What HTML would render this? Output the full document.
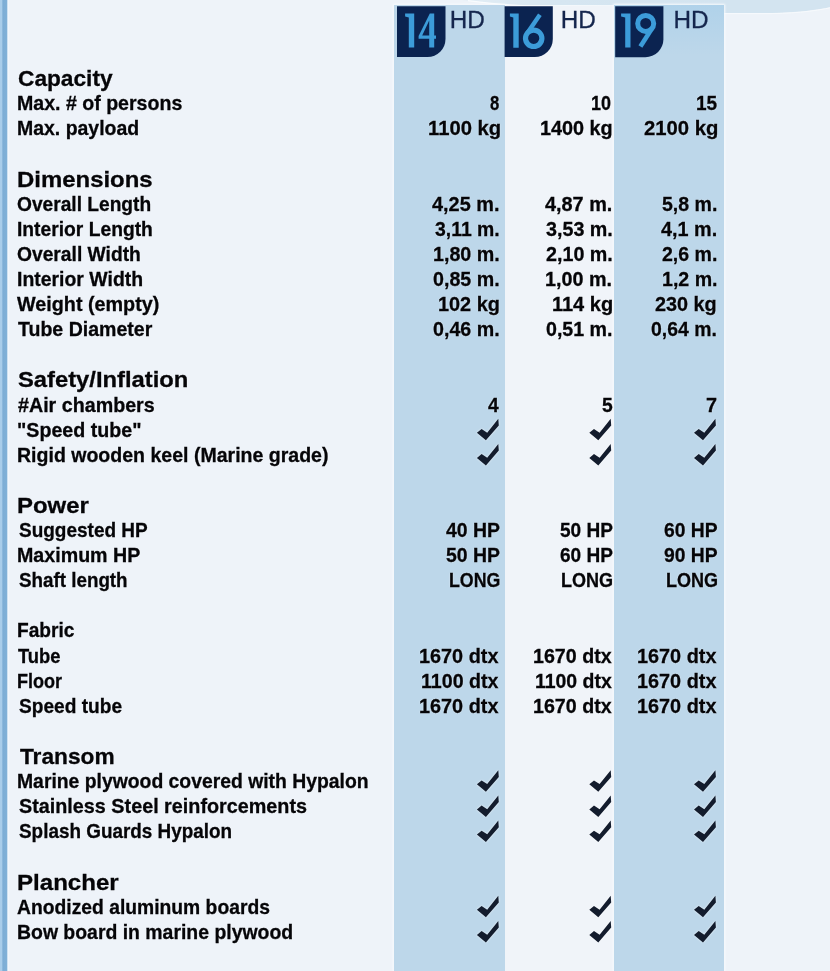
<!DOCTYPE html>
<html><head><meta charset="utf-8"><title>HD specs</title>
<style>
html,body{margin:0;padding:0;width:830px;height:971px;overflow:hidden;}
body{width:830px;height:971px;position:relative;overflow:hidden;background:#eef3f9;font-family:"Liberation Sans",sans-serif;color:#050508;}
.col{position:absolute;top:5px;bottom:-12px;}
.c1{left:394.4px;width:110.2px;background:#bdd7ea;box-shadow:0 0 2px 0.6px #f7fafd;}
.c2{left:504.6px;width:109.4px;background:#f0f4f9;top:6px}
.c3{left:614px;width:109.8px;background:linear-gradient(#b0d2ea 0,#bdd7ea 50px);top:5px;box-shadow:0 0 2px 0.6px #f7fafd;}
.stripe{position:absolute;left:-12px;top:-12px;bottom:-12px;width:21px;background:linear-gradient(90deg,#a9cdea 0,#a9cdea 13.5px,#7dadd5 15px,#80b0d7 18.5px,#f6fafe 20px,#eef3f9 21px);}
.r,.h{position:absolute;white-space:nowrap;font-weight:bold;-webkit-text-stroke:0.3px #050508;text-shadow:0 0 1.3px rgba(255,255,255,.6),0 0 2px rgba(255,255,255,.35);line-height:24px;height:24px;transform-origin:0 0;}
.r{font-size:20.2px;}
.h{font-size:22.8px;}
.badge{position:absolute;top:6px;height:51.5px;width:48.8px;background:#0b2350;border-bottom-right-radius:19px 19px;}
.hd{position:absolute;top:5px;font-size:24.3px;line-height:30px;color:#15264d;font-weight:normal;-webkit-text-stroke:0.3px #15264d;}
svg.ov{position:absolute;left:0;top:0;}
#clip{position:absolute;left:0;top:0;width:830px;height:971px;overflow:hidden;}
#w{position:absolute;left:-12px;top:-12px;width:854px;height:995px;filter:blur(0.45px);background:#eef3f9;}
#i{position:absolute;left:12px;top:12px;width:830px;height:971px;}
</style></head><body>
<div id="clip"><div id="w"><div id="i">
<svg class="ov" style="left:0;top:-12px" width="842" height="30" viewBox="0 -12 842 30">
<defs><linearGradient id="sg" x1="468" x2="724" y1="0" y2="0" gradientUnits="userSpaceOnUse"><stop offset="0" stop-color="#e2edf5"/><stop offset="0.35" stop-color="#d6e6f1"/><stop offset="1" stop-color="#d3e4f0"/></linearGradient></defs>
<path d="M462,-12 L462,0 C488,3 505,5.0 530,5.2 L724,5.4 L724,13 L772,13 C800,12.6 820,10 842,4.5 L842,-12 Z" fill="url(#sg)"/>
<path d="M468,0.6 C490,3.6 505,5.6 530,5.8 L724,6" fill="none" stroke="#f9fcfe" stroke-width="1.2"/>
<path d="M724,13.6 L772,13.6 C800,13.2 820,10.6 842,5.1" fill="none" stroke="#f7fafd" stroke-width="1"/>
</svg>
<div class="col c1"></div><div class="col c2"></div><div class="col c3"></div>
<div class="stripe"></div>
<svg class="ov" width="830" height="60" viewBox="0 0 830 60">
<g fill="#0b2350">
<path d="M397,6.3 H445.5 V39 A18,18 0 0 1 427.5,57 H397 Z"/>
<path d="M504.6,6.3 H552.8 V39 A18,18 0 0 1 534.8,57 H504.6 Z"/>
<path d="M615.2,6.3 H663.4 V39.2 A18,18 0 0 1 645.4,57.2 H615.2 Z"/>
</g>
<g fill="#3c9cd9" fill-rule="evenodd">
<path d="M405.1,13.4 H414.2 V47.6 H408.8 V17.6 L405.1,16.5 Z"/>
<path d="M429.8,13.4 H434.2 V35.5 H436 V38.8 H434.2 V47.6 H429.2 V38.8 H418.6 V36 Z M429.2,20.6 L422.2,35.5 H429.2 Z"/>
<path d="M509.9,13.4 H518.7 V47.8 H513.3 V17.6 L509.9,16.5 Z"/>
<path d="M621.1,13.4 H630.5 V47.6 H625.2 V17.6 L621.1,16.5 Z"/>
</g>
<g fill="none" stroke="#3c9cd9">
<circle cx="533.7" cy="38.3" r="8.2" stroke-width="5.2"/>
<path d="M539.9,14.8 L526.7,33.9" stroke-width="4.4"/>
<circle cx="645.7" cy="23.4" r="8" stroke-width="5.0"/>
<path d="M652.4,27.7 L640.4,46.6" stroke-width="4.6"/>
</g>
</svg>
<div class="hd" style="left:449.7px">HD</div>
<div class="hd" style="left:560.7px">HD</div>
<div class="hd" style="left:673.4px">HD</div>
<div class="h" style="top:66.00px;left:17.60px;transform:scaleX(0.9953)">Capacity</div>
<div class="r" style="top:91.00px;left:16.63px;transform:scaleX(0.9693)">Max. # of persons</div>
<div class="r" style="top:91.00px;left:490.20px;transform:scaleX(0.8273)">8</div>
<div class="r" style="top:91.00px;left:591.21px;transform:scaleX(0.8904)">10</div>
<div class="r" style="top:91.00px;left:695.76px;transform:scaleX(0.9422)">15</div>
<div class="r" style="top:116.00px;left:16.64px;transform:scaleX(0.9635)">Max. payload</div>
<div class="r" style="top:116.00px;left:427.50px;transform:scaleX(1.0024)">1100 kg</div>
<div class="r" style="top:116.00px;left:539.62px;transform:scaleX(0.9812)">1400 kg</div>
<div class="r" style="top:116.00px;left:643.70px;transform:scaleX(1.0035)">2100 kg</div>
<div class="h" style="top:167.00px;left:16.55px;transform:scaleX(1.0499)">Dimensions</div>
<div class="r" style="top:192.00px;left:17.20px;transform:scaleX(0.9489)">Overall Length</div>
<div class="r" style="top:192.00px;left:432.30px;transform:scaleX(0.9845)">4,25 m.</div>
<div class="r" style="top:192.00px;left:545.00px;transform:scaleX(0.9831)">4,87 m.</div>
<div class="r" style="top:192.00px;left:661.70px;transform:scaleX(0.9678)">5,8 m.</div>
<div class="r" style="top:217.00px;left:16.65px;transform:scaleX(0.9540)">Interior Length</div>
<div class="r" style="top:217.00px;left:435.00px;transform:scaleX(0.9605)">3,11 m.</div>
<div class="r" style="top:217.00px;left:545.50px;transform:scaleX(0.9757)">3,53 m.</div>
<div class="r" style="top:217.00px;left:660.90px;transform:scaleX(0.9819)">4,1 m.</div>
<div class="r" style="top:242.00px;left:17.20px;transform:scaleX(0.9529)">Overall Width</div>
<div class="r" style="top:242.00px;left:432.92px;transform:scaleX(0.9753)">1,80 m.</div>
<div class="r" style="top:242.00px;left:545.50px;transform:scaleX(0.9757)">2,10 m.</div>
<div class="r" style="top:242.00px;left:661.70px;transform:scaleX(0.9678)">2,6 m.</div>
<div class="r" style="top:267.00px;left:16.64px;transform:scaleX(0.9623)">Interior Width</div>
<div class="r" style="top:267.00px;left:433.10px;transform:scaleX(0.9727)">0,85 m.</div>
<div class="r" style="top:267.00px;left:545.32px;transform:scaleX(0.9783)">1,00 m.</div>
<div class="r" style="top:267.00px;left:661.53px;transform:scaleX(0.9708)">1,2 m.</div>
<div class="r" style="top:292.00px;left:16.70px;transform:scaleX(0.9786)">Weight (empty)</div>
<div class="r" style="top:292.00px;left:438.12px;transform:scaleX(0.9848)">102 kg</div>
<div class="r" style="top:292.00px;left:551.71px;transform:scaleX(0.9898)">114 kg</div>
<div class="r" style="top:292.00px;left:654.50px;transform:scaleX(0.9818)">230 kg</div>
<div class="r" style="top:317.00px;left:17.60px;transform:scaleX(0.9678)">Tube Diameter</div>
<div class="r" style="top:317.00px;left:433.10px;transform:scaleX(0.9727)">0,46 m.</div>
<div class="r" style="top:317.00px;left:545.80px;transform:scaleX(0.9713)">0,51 m.</div>
<div class="r" style="top:317.00px;left:651.30px;transform:scaleX(0.9610)">0,64 m.</div>
<div class="h" style="top:367.00px;left:18.00px;transform:scaleX(1.0426)">Safety/Inflation</div>
<div class="r" style="top:393.00px;left:18.00px;transform:scaleX(0.9748)">#Air chambers</div>
<div class="r" style="top:393.00px;left:488.00px;transform:scaleX(0.9500)">4</div>
<div class="r" style="top:393.00px;left:601.80px;transform:scaleX(0.9545)">5</div>
<div class="r" style="top:393.00px;left:705.90px;transform:scaleX(0.9818)">7</div>
<div class="r" style="top:418.00px;left:17.03px;transform:scaleX(0.9733)">&quot;Speed tube&quot;</div>
<div class="r" style="top:443.00px;left:17.03px;transform:scaleX(0.9675)">Rigid wooden keel (Marine grade)</div>
<div class="h" style="top:493.00px;left:17.35px;transform:scaleX(1.0497)">Power</div>
<div class="r" style="top:518.00px;left:19.10px;transform:scaleX(0.9407)">Suggested HP</div>
<div class="r" style="top:518.00px;left:445.70px;transform:scaleX(0.9633)">40 HP</div>
<div class="r" style="top:518.00px;left:559.60px;transform:scaleX(0.9435)">50 HP</div>
<div class="r" style="top:518.00px;left:664.20px;transform:scaleX(0.9561)">60 HP</div>
<div class="r" style="top:543.00px;left:16.63px;transform:scaleX(0.9729)">Maximum HP</div>
<div class="r" style="top:543.00px;left:445.70px;transform:scaleX(0.9633)">50 HP</div>
<div class="r" style="top:543.00px;left:559.60px;transform:scaleX(0.9435)">60 HP</div>
<div class="r" style="top:543.00px;left:664.20px;transform:scaleX(0.9561)">90 HP</div>
<div class="r" style="top:568.00px;left:19.10px;transform:scaleX(0.9312)">Shaft length</div>
<div class="r" style="top:568.00px;left:448.52px;transform:scaleX(0.8814)">LONG</div>
<div class="r" style="top:568.00px;left:560.61px;transform:scaleX(0.8938)">LONG</div>
<div class="r" style="top:568.00px;left:665.91px;transform:scaleX(0.8938)">LONG</div>
<div class="r" style="top:618.00px;left:16.65px;transform:scaleX(0.9485)">Fabric</div>
<div class="r" style="top:644.00px;left:17.60px;transform:scaleX(0.9098)">Tube</div>
<div class="r" style="top:644.00px;left:418.92px;transform:scaleX(0.9830)">1670 dtx</div>
<div class="r" style="top:644.00px;left:532.73px;transform:scaleX(0.9730)">1670 dtx</div>
<div class="r" style="top:644.00px;left:636.72px;transform:scaleX(0.9830)">1670 dtx</div>
<div class="r" style="top:669.00px;left:16.71px;transform:scaleX(0.8931)">Floor</div>
<div class="r" style="top:669.00px;left:420.93px;transform:scaleX(0.9716)">1100 dtx</div>
<div class="r" style="top:669.00px;left:534.64px;transform:scaleX(0.9628)">1100 dtx</div>
<div class="r" style="top:669.00px;left:636.72px;transform:scaleX(0.9830)">1670 dtx</div>
<div class="r" style="top:694.00px;left:19.10px;transform:scaleX(0.9468)">Speed tube</div>
<div class="r" style="top:694.00px;left:418.92px;transform:scaleX(0.9830)">1670 dtx</div>
<div class="r" style="top:694.00px;left:532.73px;transform:scaleX(0.9730)">1670 dtx</div>
<div class="r" style="top:694.00px;left:636.72px;transform:scaleX(0.9830)">1670 dtx</div>
<div class="h" style="top:744.00px;left:19.60px;transform:scaleX(0.9963)">Transom</div>
<div class="r" style="top:769.00px;left:16.64px;transform:scaleX(0.9585)">Marine plywood covered with Hypalon</div>
<div class="r" style="top:794.00px;left:19.10px;transform:scaleX(0.9798)">Stainless Steel reinforcements</div>
<div class="r" style="top:819.00px;left:19.10px;transform:scaleX(0.9358)">Splash Guards Hypalon</div>
<div class="h" style="top:870.00px;left:16.54px;transform:scaleX(1.0563)">Plancher</div>
<div class="r" style="top:895.00px;left:16.90px;transform:scaleX(0.9555)">Anodized aluminum boards</div>
<div class="r" style="top:920.00px;left:16.64px;transform:scaleX(0.9617)">Bow board in marine plywood</div>
<svg class="ov" width="830" height="971" viewBox="0 0 830 971" fill="#131c2d" style="filter:drop-shadow(0 0 1px rgba(255,255,255,.7))">
<path transform="translate(476.9,436.63)" d="M0,-3.8 L4.7,-7.7 L10.3,-4.0 L21.4,-17.8 L21.9,-11.2 L9.0,3.7 Z"/>
<path transform="translate(589.3,436.63)" d="M0,-3.8 L4.7,-7.7 L10.3,-4.0 L21.4,-17.8 L21.9,-11.2 L9.0,3.7 Z"/>
<path transform="translate(694.0,436.63)" d="M0,-3.8 L4.7,-7.7 L10.3,-4.0 L21.4,-17.8 L21.9,-11.2 L9.0,3.7 Z"/>
<path transform="translate(476.9,461.74)" d="M0,-3.8 L4.7,-7.7 L10.3,-4.0 L21.4,-17.8 L21.9,-11.2 L9.0,3.7 Z"/>
<path transform="translate(589.3,461.74)" d="M0,-3.8 L4.7,-7.7 L10.3,-4.0 L21.4,-17.8 L21.9,-11.2 L9.0,3.7 Z"/>
<path transform="translate(694.0,461.74)" d="M0,-3.8 L4.7,-7.7 L10.3,-4.0 L21.4,-17.8 L21.9,-11.2 L9.0,3.7 Z"/>
<path transform="translate(476.9,788.12)" d="M0,-3.8 L4.7,-7.7 L10.3,-4.0 L21.4,-17.8 L21.9,-11.2 L9.0,3.7 Z"/>
<path transform="translate(589.3,788.12)" d="M0,-3.8 L4.7,-7.7 L10.3,-4.0 L21.4,-17.8 L21.9,-11.2 L9.0,3.7 Z"/>
<path transform="translate(694.0,788.12)" d="M0,-3.8 L4.7,-7.7 L10.3,-4.0 L21.4,-17.8 L21.9,-11.2 L9.0,3.7 Z"/>
<path transform="translate(476.9,813.22)" d="M0,-3.8 L4.7,-7.7 L10.3,-4.0 L21.4,-17.8 L21.9,-11.2 L9.0,3.7 Z"/>
<path transform="translate(589.3,813.22)" d="M0,-3.8 L4.7,-7.7 L10.3,-4.0 L21.4,-17.8 L21.9,-11.2 L9.0,3.7 Z"/>
<path transform="translate(694.0,813.22)" d="M0,-3.8 L4.7,-7.7 L10.3,-4.0 L21.4,-17.8 L21.9,-11.2 L9.0,3.7 Z"/>
<path transform="translate(476.9,838.33)" d="M0,-3.8 L4.7,-7.7 L10.3,-4.0 L21.4,-17.8 L21.9,-11.2 L9.0,3.7 Z"/>
<path transform="translate(589.3,838.33)" d="M0,-3.8 L4.7,-7.7 L10.3,-4.0 L21.4,-17.8 L21.9,-11.2 L9.0,3.7 Z"/>
<path transform="translate(694.0,838.33)" d="M0,-3.8 L4.7,-7.7 L10.3,-4.0 L21.4,-17.8 L21.9,-11.2 L9.0,3.7 Z"/>
<path transform="translate(476.9,913.65)" d="M0,-3.8 L4.7,-7.7 L10.3,-4.0 L21.4,-17.8 L21.9,-11.2 L9.0,3.7 Z"/>
<path transform="translate(589.3,913.65)" d="M0,-3.8 L4.7,-7.7 L10.3,-4.0 L21.4,-17.8 L21.9,-11.2 L9.0,3.7 Z"/>
<path transform="translate(694.0,913.65)" d="M0,-3.8 L4.7,-7.7 L10.3,-4.0 L21.4,-17.8 L21.9,-11.2 L9.0,3.7 Z"/>
<path transform="translate(476.9,938.75)" d="M0,-3.8 L4.7,-7.7 L10.3,-4.0 L21.4,-17.8 L21.9,-11.2 L9.0,3.7 Z"/>
<path transform="translate(589.3,938.75)" d="M0,-3.8 L4.7,-7.7 L10.3,-4.0 L21.4,-17.8 L21.9,-11.2 L9.0,3.7 Z"/>
<path transform="translate(694.0,938.75)" d="M0,-3.8 L4.7,-7.7 L10.3,-4.0 L21.4,-17.8 L21.9,-11.2 L9.0,3.7 Z"/>
</svg>
</div></div></div>
</body></html>
